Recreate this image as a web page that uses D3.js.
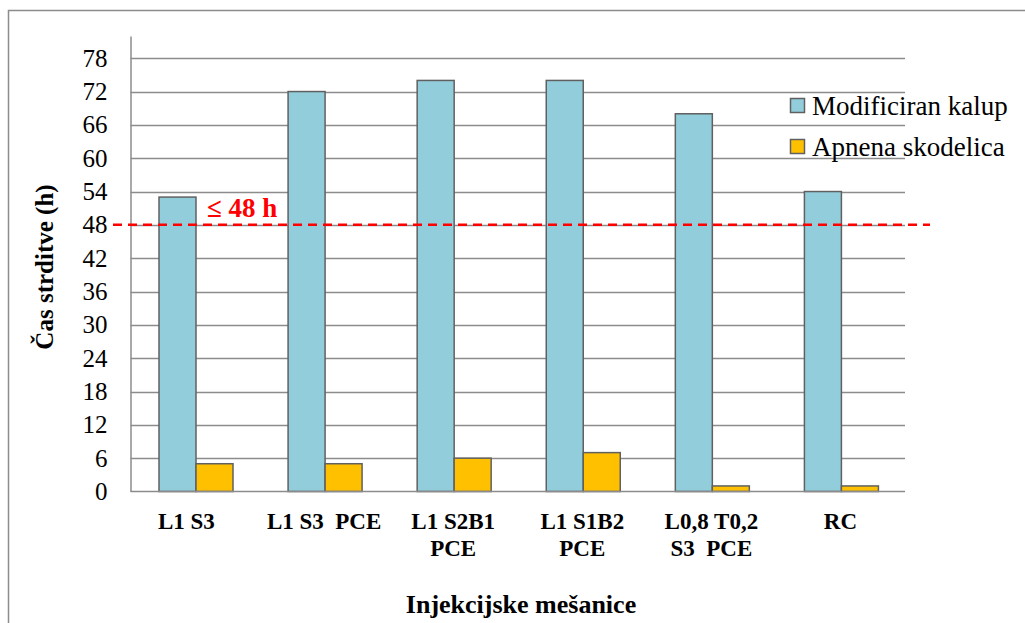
<!DOCTYPE html>
<html><head><meta charset="utf-8">
<script src="https://cdn.jsdelivr.net/npm/d3@7"></script>
<style>body{margin:0;background:#fff}svg{display:block}</style>
</head><body>
<svg id="c" width="1025" height="623" font-family="Liberation Serif"></svg>
<script>
const categories = [["L1 S3\u00a0\u00a0\u00a0"],["L1 S3\u00a0\u00a0PCE"],["L1 S2B1","PCE"],["L1 S1B2","PCE"],["L0,8 T0,2","S3\u00a0\u00a0PCE"],["RC"]];
const seriesNames = ["Modificiran kalup","Apnena skodelica"];
const modificiran = [53,72,74,74,68,54];
const apnena = [5,5,6,7,1,1];
const yTicks = [0,6,12,18,24,30,36,42,48,54,60,66,72,78];
const limit = 48;
const colors = ["#92CDDC","#FFC000"];
const FF = "Liberation Serif";

const svg = d3.select("#c");
svg.append("rect").attr("x",8.5).attr("y",10.5).attr("width",1030).attr("height",630)
  .attr("fill","none").attr("stroke","#8c8c8c").attr("stroke-width",1.5);

const L=130.5, R=905, T=36, B=491.5;
const y = d3.scaleLinear().domain([0,82]).range([B,T]);
const x = d3.scaleBand().domain(d3.range(categories.length)).range([L,R]).paddingInner(0).paddingOuter(0);
const inner = d3.scaleBand().domain([0,1]).range([28.5, 28.5+74]);

svg.append("g").selectAll("line").data(yTicks.filter(d=>d>0)).join("line")
  .attr("x1",L).attr("x2",R).attr("y1",d=>Math.round(y(d))+0.5).attr("y2",d=>Math.round(y(d))+0.5)
  .attr("stroke","#8c8c8c").attr("stroke-width",1.5);

const ya = svg.append("g").attr("transform",`translate(${L},0)`)
  .call(d3.axisLeft(y).tickValues(yTicks).tickSize(0).tickPadding(23));
ya.attr("font-family",FF).attr("font-size",25);
ya.select(".domain").attr("stroke","#8c8c8c").attr("stroke-width",1.5);
ya.selectAll("text").attr("fill","#000");

const data = [modificiran, apnena];
data.forEach((vals,si)=>{
  svg.append("g").selectAll("rect").data(vals).join("rect")
    .attr("x",(d,i)=>x(i)+inner(si)).attr("width",inner.bandwidth())
    .attr("y",d=>y(d)).attr("height",d=>B-y(d))
    .attr("fill",colors[si]).attr("stroke","#606060").attr("stroke-width",1.5);
});

svg.append("line").attr("x1",L).attr("x2",R).attr("y1",B).attr("y2",B).attr("stroke","#8c8c8c").attr("stroke-width",1.5);

const xl = svg.append("g");
categories.forEach((lines,i)=>{
  const t = xl.append("text").attr("y",529).attr("font-family",FF)
    .attr("text-anchor","middle").attr("font-size",23).attr("font-weight","bold");
  lines.forEach((ln,j)=>t.append("tspan").attr("x",x(i)+x.bandwidth()/2).attr("dy",j?27:0).text(ln));
});

svg.append("line").attr("x1",113).attr("x2",930).attr("y1",y(limit)).attr("y2",y(limit))
  .attr("stroke","#ff0000").attr("stroke-width",2.5).attr("stroke-dasharray","9,6");
svg.append("text").attr("x",207).attr("y",217).attr("fill","#ff0000").attr("font-size",27)
  .attr("font-family",FF).attr("font-weight","bold").text("≤ 48 h");

svg.append("text").attr("transform","translate(53,267) rotate(-90)").attr("text-anchor","middle")
  .attr("font-family",FF).attr("font-size",25).attr("font-weight","bold").text("Čas strditve (h)");
svg.append("text").attr("x",521).attr("y",613).attr("text-anchor","middle")
  .attr("font-family",FF).attr("font-size",26).attr("font-weight","bold").text("Injekcijske mešanice");

const lg = svg.append("g");
seriesNames.forEach((n,i)=>{
  const yy = 98 + i*41;
  lg.append("rect").attr("x",790.5).attr("y",yy+0.5).attr("width",14).attr("height",14)
    .attr("fill",colors[i]).attr("stroke","#606060").attr("stroke-width",1.5);
  lg.append("text").attr("x",812).attr("y",yy+17).attr("font-family",FF).attr("font-size",27).text(n);
});
</script>
</body></html>
